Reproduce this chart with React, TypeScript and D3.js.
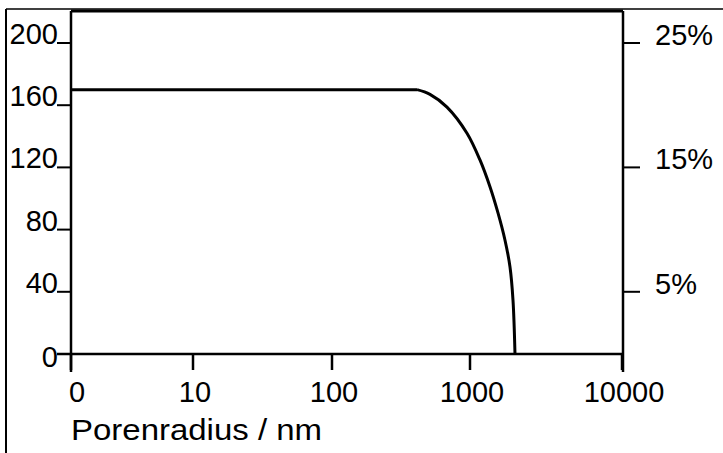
import React from "react";
import * as d3 from "d3";

// x tick values (log axis) and their labels
const xTicks = [1, 10, 100, 1000, 10000];
const xTickLabels = ["0", "10", "100", "1000", "10000"];
const yTicks = [0, 40, 80, 120, 160, 200];
const yRightTicks = [40, 120, 200];
const yRightLabels = ["5%", "15%", "25%"];

// curve: pore radius (nm) vs cumulative volume
const radius = [1, 100, 413, 513, 681, 951, 1163, 1355, 1528, 1698, 1833, 1918, 1977];
const volume = [170, 170, 170, 167, 158.8, 142, 124.8, 107.4, 90.7, 73.3, 56, 34.7, 0];

export default function App() {
  const width = 723;
  const height = 453;
  const left = 71;
  const right = 623;
  const top = 11;
  const bottom = 354;

  // the scanned axis has slightly uneven decades, so map each decade separately
  const xDecade = d3.scaleLinear().domain([0, 1, 2, 3, 4]).range([71, 193, 332, 470, 622]);
  const x = (v: number) => xDecade(Math.log10(v));
  const y = d3.scaleLinear().domain([0, 200]).range([bottom, 43]);

  const flatPath = d3
    .line<number>()
    .x((i) => x(radius[i]))
    .y((i) => y(volume[i]))(d3.range(0, 3));
  const fallPath = d3
    .line<number>()
    .x((i) => x(radius[i]))
    .y((i) => y(volume[i]))
    .curve(d3.curveCatmullRom.alpha(0.5))(d3.range(2, radius.length));

  const font = "'Liberation Sans', Arial, sans-serif";

  return (
    <svg
      width={width}
      height={height}
      style={{ position: "absolute", left: 0, top: 0, background: "#fff" }}
    >
      {/* outer frame bits */}
      <line x1={6} y1={9} x2={6} y2={height} stroke="#000" strokeWidth={2} />
      <line x1={6} y1={9} x2={width} y2={9} stroke="#000" strokeWidth={1.5} />

      {/* plot box */}
      <line x1={left} y1={top} x2={right} y2={top} stroke="#000" strokeWidth={3} />
      <line x1={left} y1={top} x2={left} y2={bottom + 18} stroke="#000" strokeWidth={2.5} />
      <line x1={right} y1={top} x2={right} y2={bottom + 18} stroke="#000" strokeWidth={2.5} />
      <line x1={left - 14} y1={bottom} x2={right} y2={bottom} stroke="#000" strokeWidth={2.5} />

      {/* left axis */}
      {yTicks.map((t) => (
        <g key={"l" + t}>
          <line x1={left - 14} y1={y(t)} x2={left} y2={y(t)} stroke="#000" strokeWidth={2} />
          <text
            x={left - 13}
            y={t === 0 ? y(t) + 13 : y(t) + 1}
            textAnchor="end"
            fontFamily={font}
            fontSize={29}
          >
            {t}
          </text>
        </g>
      ))}

      {/* right axis */}
      {yRightTicks.map((t, i) => (
        <g key={"r" + t}>
          <line x1={right} y1={y(t)} x2={right + 17} y2={y(t)} stroke="#000" strokeWidth={2} />
          <text x={655} y={y(t) + 2} fontFamily={font} fontSize={29}>
            {yRightLabels[i]}
          </text>
        </g>
      ))}

      {/* bottom axis */}
      {xTicks.map((t, i) => (
        <g key={"x" + t}>
          <line x1={x(t)} y1={bottom} x2={x(t)} y2={bottom + 16} stroke="#000" strokeWidth={2.5} />
          <text
            x={x(t) + (i === 0 ? 6 : 2)}
            y={402}
            textAnchor="middle"
            fontFamily={font}
            fontSize={29}
          >
            {xTickLabels[i]}
          </text>
        </g>
      ))}

      <text
        x={71}
        y={440}
        fontFamily={font}
        fontSize={29}
        textLength={251}
        lengthAdjust="spacingAndGlyphs"
      >
        Porenradius / nm
      </text>

      {/* curve */}
      <path d={flatPath || ""} fill="none" stroke="#000" strokeWidth={3} />
      <path d={fallPath || ""} fill="none" stroke="#000" strokeWidth={3} />
    </svg>
  );
}
